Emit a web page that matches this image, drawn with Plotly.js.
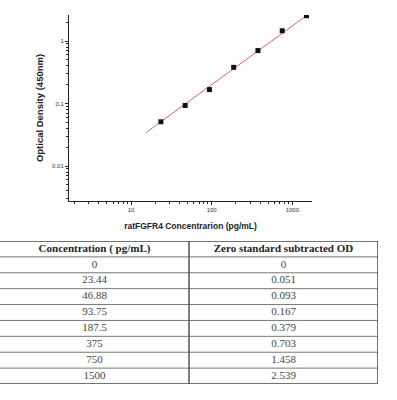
<!DOCTYPE html>
<html><head><meta charset="utf-8">
<script src="https://cdn.plot.ly/plotly-3.0.1.min.js"></script>
<style>html,body{margin:0;padding:0;background:#fff}#c{width:397px;height:400px}</style>
</head><body><div id="c"></div>
<script>
const concentration = [23.44, 46.88, 93.75, 187.5, 375, 750, 1500];
const od = [0.051, 0.093, 0.167, 0.379, 0.703, 1.458, 2.539];
const fitX = [15.2, 1500];
const fitY = [0.034, 2.55];
const tableConc = ['0', '23.44', '46.88', '93.75', '187.5', '375', '750', '1500'];
const tableOD = ['0', '0.051', '0.093', '0.167', '0.379', '0.703', '1.458', '2.539'];
const headers = ['Concentration ( pg/mL)', 'Zero standard subtracted OD'];

const serif = 'Liberation Serif, Times New Roman, serif';
const nRows = tableConc.length + 1;
const rowIdx = tableConc.map((_, i) => i + 1.5);

const traces = [
  {type:'scatter', mode:'lines', x:fitX, y:fitY, line:{color:'#e06060', width:1}, hoverinfo:'skip'},
  {type:'scatter', mode:'markers', x:concentration, y:od, marker:{symbol:'square', size:5, color:'#111'}},
  {type:'scatter', mode:'text', xaxis:'x2', yaxis:'y2', x:[0.5, 1.5], y:[0.5, 0.5], text:headers,
   textfont:{family:serif, size:11, color:'#222', weight:'bold'}, hoverinfo:'skip'},
  {type:'scatter', mode:'text', xaxis:'x2', yaxis:'y2', x:tableConc.map(() => 0.5), y:rowIdx, text:tableConc,
   textfont:{family:serif, size:11, color:'#444'}, hoverinfo:'skip'},
  {type:'scatter', mode:'text', xaxis:'x2', yaxis:'y2', x:tableOD.map(() => 1.5), y:rowIdx, text:tableOD,
   textfont:{family:serif, size:11, color:'#444'}, hoverinfo:'skip'}
];

const shapes = [];
for (let r = 0; r <= nRows; r++) {
  const outer = (r === 0 || r === nRows);
  shapes.push({type:'line', xref:'x2', yref:'y2', x0:0, x1:2, y0:r, y1:r, line:{color: outer ? '#444' : '#777', width: outer ? 1.5 : 1}});
}
[0, 1, 2].forEach(c => shapes.push({type:'line', xref:'x2', yref:'y2', x0:c, x1:c, y0:0, y1:nRows, line:{color: c === 1 ? '#555' : '#444', width: c === 0 ? 0 : 1.5}}));

const axFont = {family:'Arial, Liberation Sans, sans-serif', size:6, color:'#333'};
const layout = {
  width:397, height:400, margin:{l:0,r:0,t:0,b:0}, showlegend:false,
  paper_bgcolor:'#fff', plot_bgcolor:'rgba(0,0,0,0)', shapes:shapes,
  xaxis:{type:'log', domain:[69/397, 312/397], range:[Math.log10(1.7), Math.log10(1755)],
    dtick:1, showgrid:false, zeroline:false, showline:true, linecolor:'#222', linewidth:1,
    ticks:'outside', ticklen:3, tickcolor:'#222', tickfont:axFont,
    minor:{ticks:'outside', ticklen:2, tickcolor:'#222', showgrid:false},
    title:{text:'ratFGFR4 Concentrarion (pg/mL)', standoff:10, font:{family:'Arial, Liberation Sans, sans-serif', size:8.5, color:'#222', weight:'bold'}}},
  yaxis:{type:'log', domain:[(400-201)/400, (400-15)/400], range:[-2.56, 0.416],
    dtick:1, showgrid:false, zeroline:false, showline:true, linecolor:'#222', linewidth:1,
    ticks:'outside', ticklen:3, tickcolor:'#222', tickfont:axFont, exponentformat:'none',
    minor:{ticks:'outside', ticklen:2, tickcolor:'#222', showgrid:false},
    title:{text:'Optical Density (450nm)', standoff:6, font:{family:'Arial, Liberation Sans, sans-serif', size:9.5, color:'#222', weight:'bold'}}},
  xaxis2:{domain:[0, 378/397], range:[0, 2], anchor:'y2', visible:false, fixedrange:true},
  yaxis2:{domain:[(400-384)/400, (400-241)/400], range:[nRows, 0], anchor:'x2', visible:false, fixedrange:true}
};
Plotly.newPlot('c', traces, layout, {staticPlot:true, displayModeBar:false});
</script></body></html>
